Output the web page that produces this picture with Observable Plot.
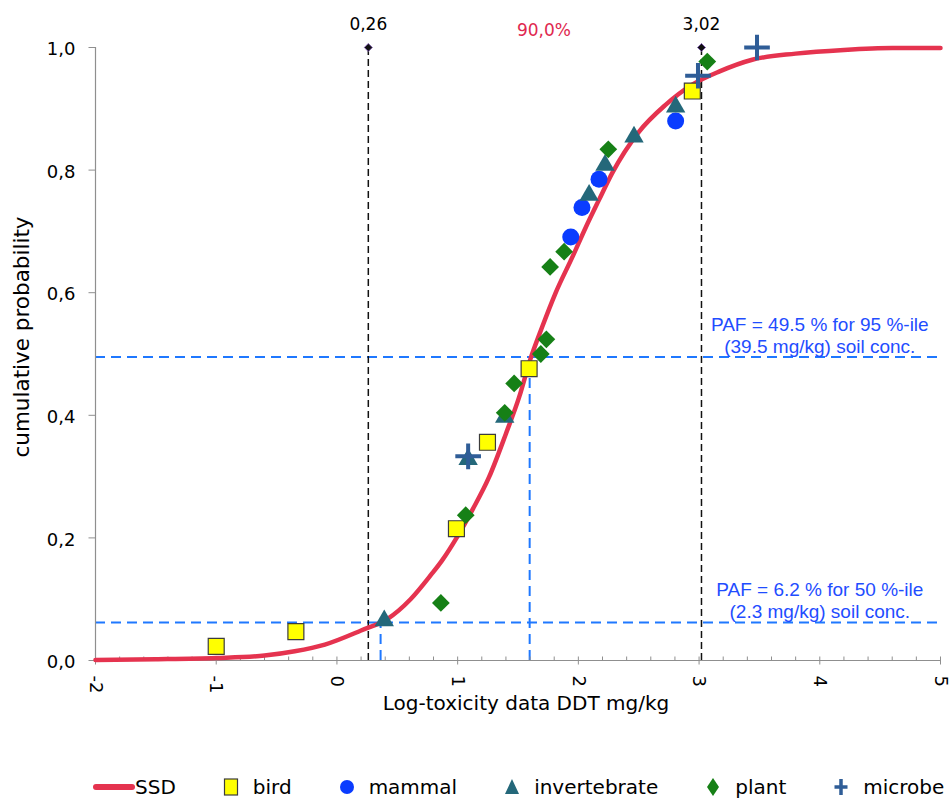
<!DOCTYPE html>
<html>
<head>
<meta charset="utf-8">
<script src="https://cdn.jsdelivr.net/npm/d3@7"></script>
<script src="https://cdn.jsdelivr.net/npm/@observablehq/plot@0.6"></script>
<style>
  body { margin: 0; background: #fff; }
  #chart { position: relative; width: 949px; height: 801px; font-family: "DejaVu Sans", sans-serif; overflow: hidden; }
  #legend { position: absolute; left: 93px; top: 774px; height: 26px; display: flex; align-items: center; font-size: 20px; color: #000; }
  #legend .item { display: flex; align-items: center; }
  #legend .item + .item { margin-left: 43px; }
  #legend .item span { margin-left: 10px; }
  #legend .item.line span { margin-left: 0; }
</style>
</head>
<body>
<div id="chart"></div>
<script>
// Fitted species sensitivity distribution (log10 DDT mg/kg vs cumulative probability)
const ssdLogConc = [-2.0, -1.5, -1.0, -0.6, -0.35, -0.1, 0.2, 0.42, 0.61, 0.78, 0.87, 1.0, 1.12, 1.26, 1.4, 1.51, 1.6, 1.7, 1.81, 1.95, 2.06, 2.17, 2.28, 2.5, 2.72, 2.94, 3.17, 3.44, 3.8, 4.2, 4.6, 5.0];
const ssdCumProb = [0.001, 0.002, 0.004, 0.008, 0.015, 0.026, 0.049, 0.068, 0.100, 0.140, 0.163, 0.203, 0.245, 0.299, 0.370, 0.430, 0.490, 0.544, 0.599, 0.658, 0.706, 0.751, 0.795, 0.862, 0.906, 0.939, 0.961, 0.980, 0.990, 0.996, 0.999, 0.999];

// Toxicity data per taxonomic group
const birdLogConc = [-1.0, -0.34, 0.99, 1.247, 1.592, 2.944];
const birdCumProb = [0.023, 0.047, 0.215, 0.356, 0.476, 0.929];
const mammalLogConc = [1.937, 2.03, 2.171, 2.806];
const mammalCumProb = [0.691, 0.739, 0.785, 0.880];
const invertebrateLogConc = [0.392, 1.087, 1.39, 2.089, 2.221, 2.461, 2.806];
const invertebrateCumProb = [0.065, 0.328, 0.397, 0.759, 0.808, 0.854, 0.903];
const plantLogConc = [0.861, 1.067, 1.39, 1.468, 1.689, 1.735, 1.766, 1.882, 2.248, 3.068];
const plantCumProb = [0.094, 0.237, 0.404, 0.452, 0.500, 0.524, 0.642, 0.667, 0.834, 0.977];
const microbeLogConc = [1.087, 2.991, 3.48];
const microbeCumProb = [0.333, 0.954, 1.0];

// 5th / 95th percentile markers and the share between them
const percentileLogConc = [0.26, 3.02];
const percentileLabels = ["0,26", "3,02"];
const intervalLabel = "90,0%";

// Potentially affected fraction at two soil concentrations
const pafFraction = [0.495, 0.062];
const pafConcMgKg = [39.5, 2.3];
const pafLabels = [
  "PAF = 49.5 % for 95 %-ile\n(39.5 mg/kg) soil conc.",
  "PAF = 6.2 % for 50 %-ile\n(2.3 mg/kg) soil conc."
];
const pafLabelLogConc = 4.0;

// Axes
const xTickValues = [-2, -1, 0, 1, 2, 3, 4, 5];
const xTickLabels = ["-2", "-1", "0", "1", "2", "3", "4", "5"];
const yTickValues = [0, 0.2, 0.4, 0.6, 0.8, 1.0];
const yTickLabels = ["0,0", "0,2", "0,4", "0,6", "0,8", "1,0"];
const xTitle = "Log-toxicity data DDT mg/kg";
const yTitle = "cumulative probability";

const groups = [
  {name: "bird", x: birdLogConc, p: birdCumProb, symbol: "square", r: 9, fill: "#ffff00", stroke: "#3c3c3c", strokeWidth: 1.2},
  {name: "mammal", x: mammalLogConc, p: mammalCumProb, symbol: "circle", r: 8.5, fill: "#0a3cff", stroke: "none", strokeWidth: 0},
  {name: "invertebrate", x: invertebrateLogConc, p: invertebrateCumProb, symbol: "triangle", r: 7.2, fill: "#24687a", stroke: "none", strokeWidth: 0},
  {name: "plant", x: plantLogConc, p: plantCumProb, symbol: "diamond2", r: 8, fill: "#168016", stroke: "none", strokeWidth: 0},
  {name: "microbe", x: microbeLogConc, p: microbeCumProb, symbol: "plus", r: 8.3, fill: "none", stroke: "#2f5d97", strokeWidth: 4}
];

const ssd = ssdLogConc.map((x, i) => ({x, p: ssdCumProb[i]}));
const paf = pafFraction.map((p, i) => ({p, x: Math.log10(pafConcMgKg[i]), label: pafLabels[i]}));
const percentiles = percentileLogConc.map((x, i) => ({x, label: percentileLabels[i]}));
const xTicks = xTickValues.map((x, i) => ({x, label: xTickLabels[i]}));
const yTicks = yTickValues.map((p, i) => ({p, label: yTickLabels[i]}));
const minorTicks = d3.range(-20, 51, 2).map(i => i / 10).filter(v => !Number.isInteger(v));

// small path symbols for axis ticks
const tickUp = {draw(ctx) { ctx.moveTo(0, 0); ctx.lineTo(0, -4); }};
const tickCross = {draw(ctx) { ctx.moveTo(0, -4); ctx.lineTo(0, 4); }};
const tickLeft = {draw(ctx) { ctx.moveTo(0, 0); ctx.lineTo(-7, 0); }};

const axisGray = "#8f8f8f";
const ssdRed = "#e5334f";
const pafBlue = "#1f78ff";
const pafText = "#1f4dff";

const marks = [
  // reference lines
  Plot.ruleY(paf, {y: "p", stroke: pafBlue, strokeWidth: 2, strokeDasharray: "10,6"}),
  Plot.ruleX(paf, {x: "x", y1: () => 0, y2: "p", stroke: pafBlue, strokeWidth: 2, strokeDasharray: "10,6"}),
  Plot.ruleX(percentiles, {x: "x", y1: () => 0, y2: () => 1, stroke: "#111", strokeWidth: 1.5, strokeDasharray: "7,4"}),
  // axes lines, ticks and labels
  Plot.ruleY([0], {stroke: axisGray, strokeWidth: 1.2}),
  Plot.ruleX([-2], {stroke: axisGray, strokeWidth: 1.2}),
  Plot.dot(minorTicks, {x: d => d, y: () => 0, symbol: tickUp, fill: "none", stroke: axisGray, strokeWidth: 1}),
  Plot.dot(xTickValues, {x: d => d, y: () => 0, symbol: tickCross, fill: "none", stroke: axisGray, strokeWidth: 1}),
  Plot.dot(yTickValues, {x: () => -2, y: d => d, symbol: tickLeft, fill: "none", stroke: axisGray, strokeWidth: 1}),
  Plot.text(xTicks, {x: "x", y: () => 0, text: "label", rotate: 90, textAnchor: "start", dy: 15, fontSize: 18}),
  Plot.text(yTicks, {x: () => -2, y: "p", text: "label", textAnchor: "end", dx: -20, dy: 2, fontSize: 18}),
  Plot.text([xTitle], {frameAnchor: "bottom", lineAnchor: "middle", dx: 8, dy: 43, fontSize: 20}),
  Plot.text([yTitle], {frameAnchor: "left", textAnchor: "middle", lineAnchor: "middle", rotate: -90, dx: -73, dy: -17, fontSize: 21.5}),
  // SSD curve
  Plot.line(ssd, {x: "x", y: "p", stroke: ssdRed, strokeWidth: 4.5, curve: "monotone-x"}),
  // observations per group
  ...groups.map(g => Plot.dot(g.x.map((x, i) => ({x, p: g.p[i]})), {
    x: "x", y: "p", symbol: g.symbol, r: g.r, fill: g.fill, stroke: g.stroke, strokeWidth: g.strokeWidth
  })),
  // percentile markers and labels
  Plot.dot(percentiles, {x: "x", y: () => 1, symbol: "diamond2", r: 3.6, fill: "#111", stroke: "#7a5aa8", strokeWidth: 1}),
  Plot.text(percentiles, {x: "x", y: () => 1, text: "label", dy: -23, fontSize: 17}),
  Plot.text([intervalLabel], {x: () => d3.mean(percentileLogConc), y: () => 1, text: d => d, dx: 9, dy: -17, fontSize: 17, fill: "#e0284f"}),
  // PAF annotations
  Plot.text(paf, {x: () => pafLabelLogConc, y: "p", text: "label", lineAnchor: "bottom", dy: -4, lineHeight: 1.16, fontSize: 19, fontFamily: "Liberation Sans", fill: pafText})
];

const chart = Plot.plot({
  width: 949,
  height: 750,
  marginLeft: 95,
  marginRight: 9,
  marginTop: 47,
  marginBottom: 90,
  x: {domain: [-2, 5], axis: null},
  y: {domain: [0, 1], axis: null},
  style: {fontFamily: "DejaVu Sans", fontSize: "18px", color: "#000", background: "white"},
  marks
});

const root = document.getElementById("chart");
root.appendChild(chart);

// legend below the plot
const legend = d3.select(root).append("div").attr("id", "legend");
const ssdItem = legend.append("div").attr("class", "item line");
const ssdSwatch = ssdItem.append("svg").attr("width", 42).attr("height", 20);
ssdSwatch.append("line").attr("x1", 3).attr("x2", 39).attr("y1", 10).attr("y2", 10)
  .attr("stroke", ssdRed).attr("stroke-width", 6).attr("stroke-linecap", "round");
ssdItem.append("span").text("SSD");

const legendShapes = {
  square: g => g.append("rect").attr("x", 5.5).attr("y", 4).attr("width", 13).attr("height", 16),
  circle: g => g.append("circle").attr("cx", 12).attr("cy", 12).attr("r", 7),
  triangle: g => g.append("path").attr("d", "M12,4L19,19L5,19Z"),
  diamond2: g => g.append("path").attr("d", "M12,3L18,12L12,21L6,12Z"),
  plus: g => g.append("path").attr("d", "M12,4V20M5.5,12H18.5")
};
for (const g of groups) {
  const item = legend.append("div").attr("class", "item");
  const sw = item.append("svg").attr("width", 24).attr("height", 24);
  legendShapes[g.symbol](sw)
    .attr("fill", g.fill)
    .attr("stroke", g.stroke === "none" ? null : g.stroke)
    .attr("stroke-width", g.symbol === "plus" ? 3.5 : g.strokeWidth);
  item.append("span").text(g.name);
}
</script>
</body>
</html>
